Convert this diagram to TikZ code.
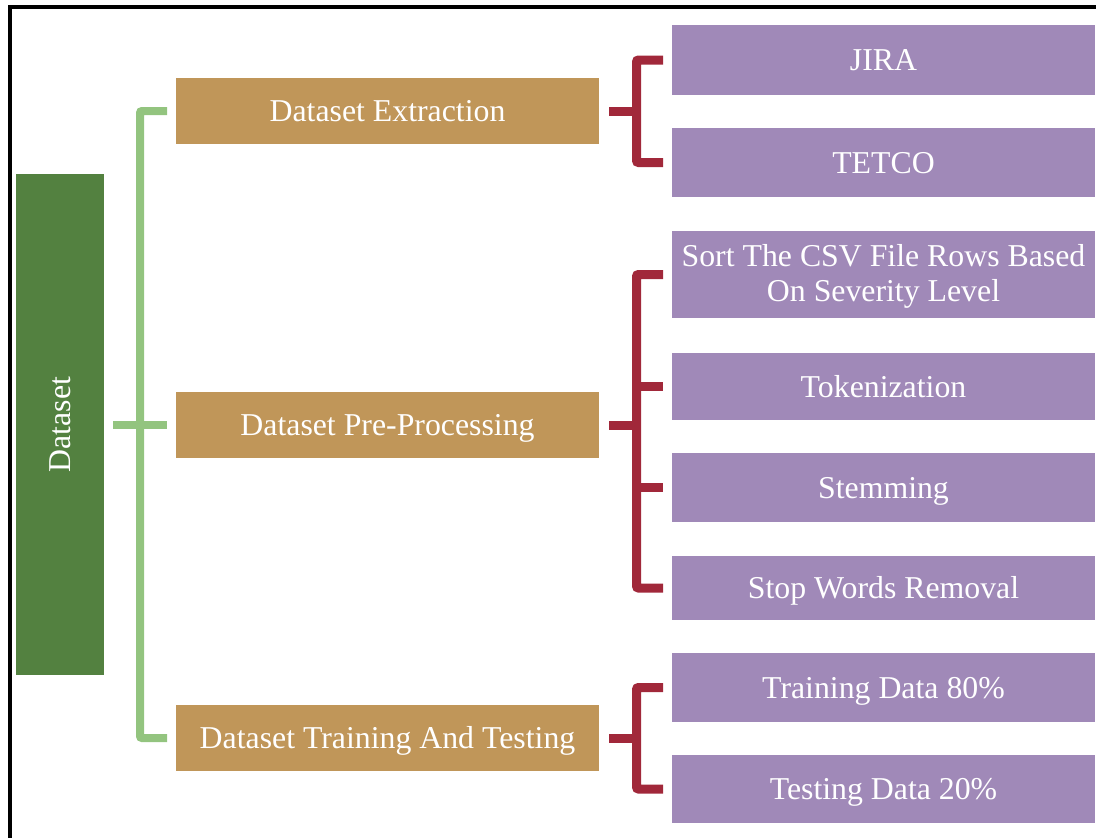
\documentclass[tikz,border=0pt]{standalone}
\usepackage{fontspec}
\setmainfont{Liberation Serif}
\definecolor{rootgreen}{HTML}{538140}
\definecolor{stagebrown}{HTML}{C09659}
\definecolor{leafpurple}{HTML}{A089B8}
\definecolor{linkgreen}{HTML}{93C47F}
\definecolor{linkred}{HTML}{A1283A}
\tikzset{
  box/.style={inner sep=0pt, outer sep=0pt, draw=none, text=white, align=center,
    font=\fontsize{31.8}{34.5}\selectfont, text height=25pt, text depth=3.6pt},
  rootbox/.style={box, fill=rootgreen, minimum width=88pt, minimum height=501pt},
  stagebox/.style={box, fill=stagebrown, minimum width=423pt, minimum height=66pt},
  leafbox/.style={box, fill=leafpurple, minimum width=423pt},
  greenlink/.style={draw=linkgreen, line width=8pt, rounded corners=2pt},
  redlink/.style={draw=linkred, line width=9pt, rounded corners=2pt}
}
\begin{document}
\begin{tikzpicture}[x=1pt, y=-1pt]
\useasboundingbox (0,0) rectangle (1096,838);
\clip (0,0) rectangle (1096,838);
% outer frame
\draw[line width=4pt] (10,900) -- (10,7) -- (1200,7);

% root
\node[rootbox, text height=, text depth=] (root) at (60,424.5) {\rotatebox{90}{Dataset}};

% stages
\node[stagebox] (ext)   at (387.5,111) {Dataset Extraction};
\node[stagebox] (pre)   at (387.5,425) {Dataset Pre-Processing};
\node[stagebox] (train) at (387.5,738) {Dataset Training And Testing};

% leaves
\node[leafbox, minimum height=70pt] (jira)  at (883.5,60)    {JIRA};
\node[leafbox, minimum height=69pt] (tetco) at (883.5,162.5) {TETCO};
\node[leafbox, minimum height=87pt, text height=57pt, text depth=4pt] (sort) at (883.5,274.5)
  {Sort The CSV File Rows Based\\On Severity Level};
\node[leafbox, minimum height=67pt] (tok)   at (883.5,386.5) {Tokenization};
\node[leafbox, minimum height=69pt] (stem)  at (883.5,487.5) {Stemming};
\node[leafbox, minimum height=64pt] (stop)  at (883.5,588)   {Stop Words Removal};
\node[leafbox, minimum height=69pt] (trd)   at (883.5,687.5) {Training Data 80\%};
\node[leafbox, minimum height=68pt] (ted)   at (883.5,789)   {Testing Data 20\%};

% root to stages
\coordinate (gv) at (140,0);
\draw[greenlink] ([xshift=-9pt]ext.west) -| (gv |- train.west) -- ([xshift=-9pt]train.west);
\draw[greenlink] ([xshift=9pt]root.east |- pre.west) -- ([xshift=-9pt]pre.west);

% stages to leaves
\coordinate (rv) at (636.5,0);
\draw[redlink] ([xshift=-9pt]jira.west) -| (rv |- tetco.west) -- ([xshift=-9pt]tetco.west);
\draw[redlink] ([xshift=10pt]ext.east) -- (rv |- ext.east);

\draw[redlink] ([xshift=-9pt]sort.west) -| (rv |- stop.west) -- ([xshift=-9pt]stop.west);
\draw[redlink] (rv |- tok.west) -- ([xshift=-9pt]tok.west);
\draw[redlink] (rv |- stem.west) -- ([xshift=-9pt]stem.west);
\draw[redlink] ([xshift=10pt]pre.east) -- (rv |- pre.east);

\draw[redlink] ([xshift=-9pt]trd.west) -| (rv |- ted.west) -- ([xshift=-9pt]ted.west);
\draw[redlink] ([xshift=10pt]train.east) -- (rv |- train.east);
\end{tikzpicture}
\end{document}
